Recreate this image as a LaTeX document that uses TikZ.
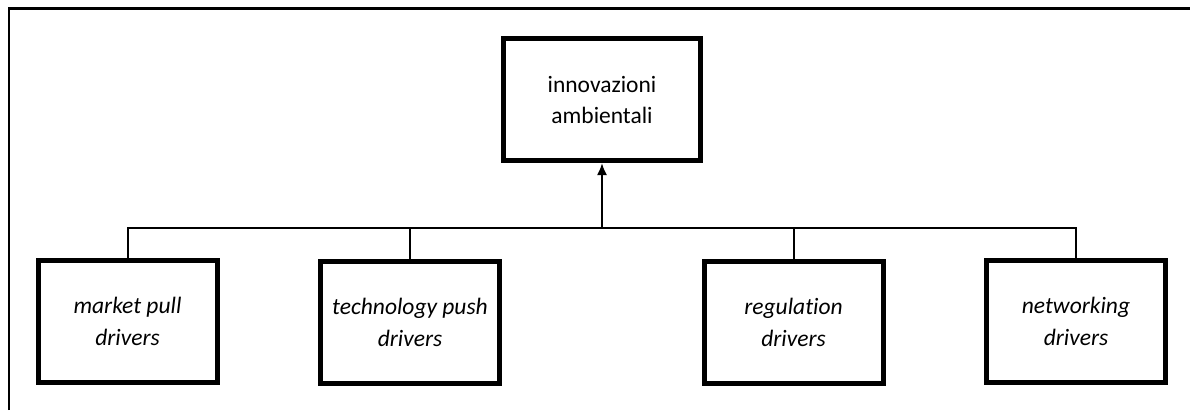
\documentclass[tikz,border=0pt]{standalone}
\usepackage{fontspec}
\setmainfont{Carlito}[Ligatures=NoCommon]
\usetikzlibrary{arrows.meta}

\tikzset{
  topbox/.style={draw,line width=5pt,minimum width=197pt,minimum height=122pt,align=center,inner sep=2pt,font=\fontsize{23.5}{31}\selectfont},
  driverbox/.style={draw,line width=5pt,minimum width=179pt,minimum height=122pt,align=center,inner sep=2pt,font=\fontsize{23.5}{32}\selectfont\itshape}
}

\begin{document}
\begin{tikzpicture}[x=1pt,y=-1pt]

\useasboundingbox (0,0) rectangle (1190,410);

% outer frame (only top and left side show)
\draw[line width=2.5pt] (9,410)--(9,8.5)--(1190,8.5);

\node [topbox] (top) at (602,99.5) {innovazioni\\ambientali};

\node [driverbox] (market) at (127.5,321.5) {market pull\\drivers};
\node [driverbox] (tech) at (410,322) {technology push\\drivers};
\node [driverbox] (reg) at (793.5,322) {regulation\\drivers};
\node [driverbox] (net) at (1076,321.5) {networking\\drivers};

\coordinate (bus) at (0,228);

\draw[line width=2pt] (market.north) |- (bus -| net.north) -- (net.north);
\draw[line width=2pt] (tech.north) -- (tech.north |- bus);
\draw[line width=2pt] (reg.north) -- (reg.north |- bus);
\draw[line width=2pt,-{Latex[length=12pt,width=10pt]}] (top.south |- bus) -- (top.south);

\end{tikzpicture}
\end{document}
